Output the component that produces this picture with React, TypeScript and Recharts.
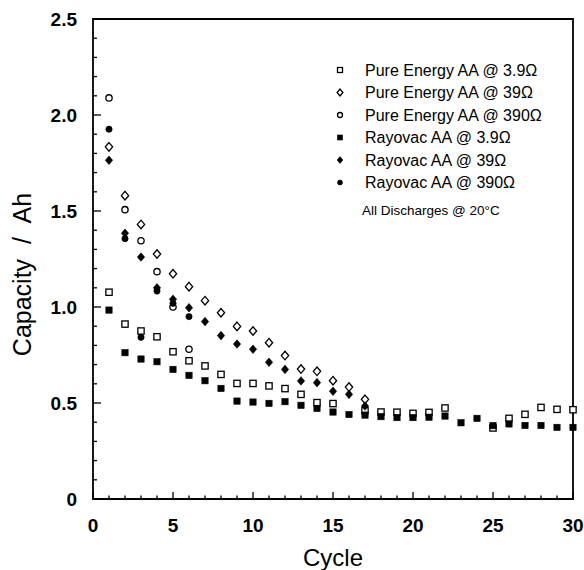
import { Legend, ReferenceArea, Scatter, ScatterChart, XAxis, YAxis } from "recharts";

// cycle numbers, one per measurement
const cycles = [
  1, 2, 3, 4, 5, 6, 7, 8, 9, 10, 11, 12, 13, 14, 15, 16, 17, 18, 19, 20, 21, 22, 23, 24, 25, 26, 27, 28, 29, 30,
];

// capacity in Ah, index = cycle - 1 (null = no visible point)
const pureEnergy3_9 = [
  1.077, 0.911, 0.875, 0.845, 0.767, 0.72, 0.693, 0.649, 0.602, 0.602, 0.589, 0.575, 0.545, 0.502, 0.497, null,
  0.46, 0.453, 0.452, 0.446, 0.451, 0.474, null, null, 0.37, 0.42, 0.441, 0.477, 0.467, 0.465,
];
const pureEnergy39 = [
  1.834, 1.58, 1.43, 1.276, 1.173, 1.106, 1.033, 0.97, 0.899, 0.875, 0.814, 0.747, 0.677, 0.665, 0.616, 0.583, 0.519,
];
const pureEnergy390 = [2.089, 1.507, 1.345, 1.184, 1.0, 0.78];
const rayovac3_9 = [
  0.984, 0.762, 0.729, 0.715, 0.675, 0.644, 0.616, 0.576, 0.51, 0.505, 0.498, 0.507, 0.488, 0.472, 0.453, 0.44,
  0.437, 0.429, 0.424, 0.424, 0.426, 0.432, 0.397, 0.42, 0.382, 0.391, 0.383, 0.383, 0.373, 0.373,
];
const rayovac39 = [
  1.764, 1.384, 1.26, 1.1, 1.04, 0.996, 0.924, 0.851, 0.807, 0.78, 0.712, 0.675, 0.615, 0.606, 0.561, 0.545, 0.484,
];
const rayovac390 = [1.926, 1.356, 0.842, 1.083, 1.019, 0.95];

const xTicks = [0].concat(cycles);
const yTicks = Array.from({ length: 26 }, (_, i) => i / 10);
const xTickLabels = [0, 5, 10, 15, 20, 25, 30];
const yTickLabels = ["0", "0.5", "1.0", "1.5", "2.0", "2.5"];

const FONT = "'Liberation Sans', Arial, Helvetica, sans-serif";

type Kind = "square" | "diamond" | "circle";

const series: { name: string; values: (number | null)[]; kind: Kind; filled: boolean }[] = [
  { name: "Pure Energy AA @ 3.9Ω", values: pureEnergy3_9, kind: "square", filled: false },
  { name: "Pure Energy AA @ 39Ω", values: pureEnergy39, kind: "diamond", filled: false },
  { name: "Pure Energy AA @ 390Ω", values: pureEnergy390, kind: "circle", filled: false },
  { name: "Rayovac AA @ 3.9Ω", values: rayovac3_9, kind: "square", filled: true },
  { name: "Rayovac AA @ 39Ω", values: rayovac39, kind: "diamond", filled: true },
  { name: "Rayovac AA @ 390Ω", values: rayovac390, kind: "circle", filled: true },
];

const toPoints = (values: (number | null)[]) =>
  values
    .map((v, i) => ({ cycle: cycles[i], cap: v }))
    .filter((p) => p.cap !== null);

function Mark({ kind, filled, cx, cy, s }: { kind: Kind; filled: boolean; cx: number; cy: number; s: number }) {
  const fill = filled ? "#000" : "#fff";
  const sw = filled ? 0.6 : 1.3;
  if (kind === "square") {
    return <rect x={cx - s / 2} y={cy - s / 2} width={s} height={s} fill={fill} stroke="#000" strokeWidth={sw} />;
  }
  if (kind === "diamond") {
    const w = s * 0.58;
    const h = s * 0.68;
    return (
      <polygon
        points={`${cx},${cy - h} ${cx + w},${cy} ${cx},${cy + h} ${cx - w},${cy}`}
        fill={fill}
        stroke="#000"
        strokeWidth={sw}
      />
    );
  }
  return <circle cx={cx} cy={cy} r={s / 2} fill={fill} stroke="#000" strokeWidth={sw} />;
}

function XTick({ x, y, payload }: any) {
  const v = payload.value;
  const major = v % 5 === 0;
  return (
    <g>
      <line x1={x} x2={x} y1={y} y2={y - (major ? 7 : 3.5)} stroke="#000" strokeWidth={1.3} />
      {major && xTickLabels.includes(v) && (
        <text x={x} y={y + 33} textAnchor="middle" fontSize={19} fontWeight="bold" fontFamily={FONT} fill="#000">
          {v}
        </text>
      )}
    </g>
  );
}

function YTick({ x, y, payload }: any) {
  const v = payload.value;
  const idx = Math.round(v * 2);
  const major = Math.abs(v * 2 - idx) < 1e-6;
  return (
    <g>
      <line x1={x} x2={x + (major ? 8 : 4)} y1={y} y2={y} stroke="#000" strokeWidth={1.3} />
      {major && (
        <text x={x - 16} y={y + 7} textAnchor="end" fontSize={19} fontWeight="bold" fontFamily={FONT} fill="#000">
          {yTickLabels[idx]}
        </text>
      )}
    </g>
  );
}

function LegendBox() {
  return (
    <svg width={584} height={230} style={{ display: "block" }}>
      {series.map((s, i) => {
        const cy = 70 + i * 22.5;
        return (
          <g key={s.name}>
            <Mark kind={s.kind} filled={s.filled} cx={340} cy={cy} s={5} />
            <text x={365} y={cy + 5.5} fontSize={16} fontFamily={FONT} fill="#000">
              {s.name}
            </text>
          </g>
        );
      })}
      <text x={362} y={214.5} fontSize={13.5} fontFamily={FONT} fill="#000">
        All Discharges @ 20°C
      </text>
    </svg>
  );
}

const xTitle = () => (
  <text x={333} y={566} textAnchor="middle" fontSize={24} fontFamily={FONT} fill="#000">
    Cycle
  </text>
);

const yTitle = () => (
  <text
    x={31}
    y={274.5}
    transform="rotate(-90, 31, 274.5)"
    textAnchor="middle"
    fontSize={25}
    fontFamily={FONT}
    fill="#000"
    style={{ wordSpacing: "8px" }}
  >
    Capacity / Ah
  </text>
);

export default function App() {
  return (
    <div style={{ position: "absolute", left: 0, top: 0, width: 584, height: 570, background: "#fff" }}>
      <ScatterChart width={584} height={570} margin={{ top: 19, right: 11, bottom: 0, left: 33 }}>
        <XAxis
          type="number"
          dataKey="cycle"
          domain={[0, 30]}
          ticks={xTicks}
          interval={0}
          tickSize={0}
          tickMargin={0}
          axisLine={false}
          tickLine={false}
          height={71}
          tick={<XTick />}
          label={{ content: xTitle }}
        />
        <YAxis
          type="number"
          dataKey="cap"
          domain={[0, 2.5]}
          ticks={yTicks}
          interval={0}
          tickSize={0}
          tickMargin={0}
          axisLine={false}
          tickLine={false}
          width={60}
          tick={<YTick />}
          label={{ content: yTitle }}
        />
        <ReferenceArea x1={0} x2={30} y1={0} y2={2.5} fill="none" stroke="#000" strokeWidth={1.8} />
        {series.map((s) => (
          <Scatter
            key={s.name}
            name={s.name}
            data={toPoints(s.values)}
            isAnimationActive={false}
            shape={(p: any) => <Mark kind={s.kind} filled={s.filled} cx={p.cx} cy={p.cy} s={6.3} />}
          />
        ))}
        <Legend
          layout="horizontal"
          verticalAlign="middle"
          align="center"
          wrapperStyle={{ left: 0, top: 0, width: 584, height: 230, pointerEvents: "none" }}
          content={() => <LegendBox />}
        />
      </ScatterChart>
    </div>
  );
}
